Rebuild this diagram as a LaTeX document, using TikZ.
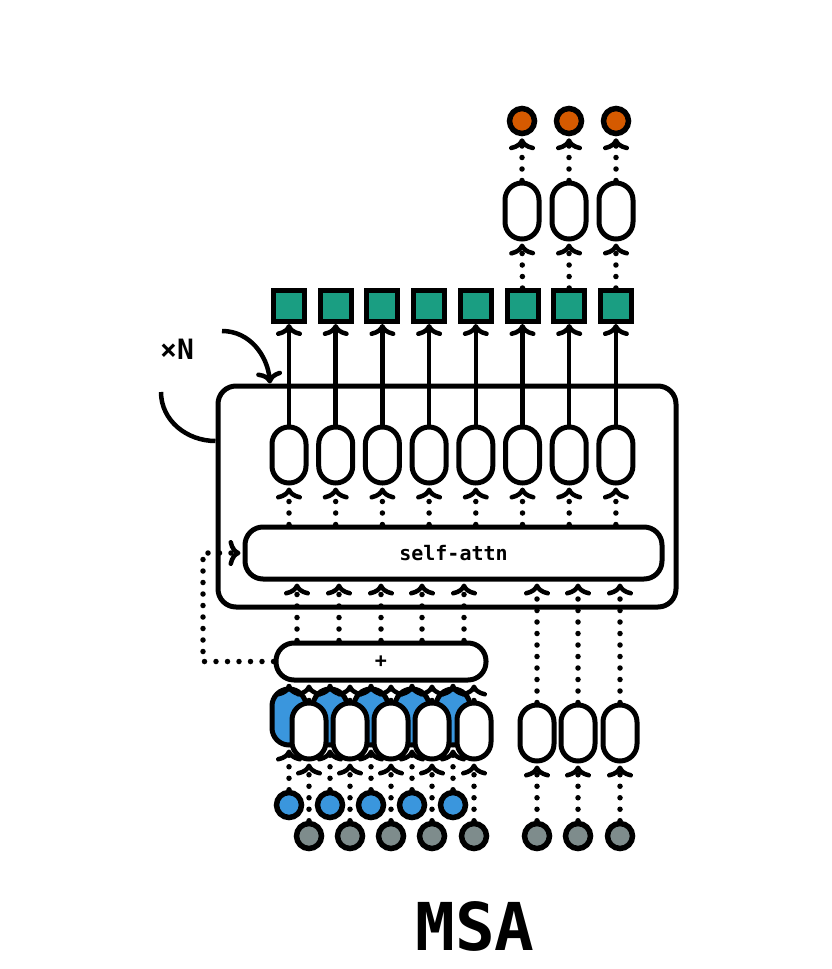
\documentclass[tikz,border=0pt]{standalone}
\usepackage{fontspec}
\setmonofont{DejaVu Sans Mono}
\usetikzlibrary{arrows.meta,positioning,calc}
\definecolor{teal}{HTML}{1A9E82}
\definecolor{blu}{HTML}{3A96DD}
\definecolor{orng}{HTML}{D55A00}
\definecolor{gry}{HTML}{7E8C8C}
\tikzset{
  capsule/.style={draw,line width=5pt,fill=white,minimum width=34pt,
    minimum height=56pt,rounded corners=17pt,inner sep=0pt},
  blue capsule/.style={capsule,fill=blu},
  token/.style={draw,circle,line width=5.5pt,minimum size=25pt,inner sep=0pt},
  outsq/.style={draw,line width=5pt,fill=teal,minimum size=31pt,inner sep=0pt},
  bar/.style={draw,line width=5pt,fill=white,rounded corners=18pt,inner sep=0pt},
  dots/.style={line width=5.5pt,line cap=round,dash pattern=on 0pt off 11.5pt,
    -{Computer Modern Rightarrow[width=26pt,length=12pt,line width=4.5pt,sep=2pt]}},
  solid arr/.style={line width=4.5pt,
    -{Computer Modern Rightarrow[width=26pt,length=12pt,line width=4.5pt]}},
}
\begin{document}
\begin{tikzpicture}[x=1pt,y=-1pt,font=\ttfamily\bfseries]
  \useasboundingbox (0,0) rectangle (831,969);

  % block
  \node[bar,minimum width=458pt,minimum height=221pt] (blk) at (447,496.5) {};
  \node[bar,minimum width=417pt,minimum height=52pt,font=\ttfamily\bfseries\fontsize{20}{24}\selectfont]
    (attn) at (453.5,553) {self-attn};
  \node[bar,minimum width=210pt,minimum height=37pt,font=\ttfamily\bfseries\fontsize{20}{24}\selectfont]
    (plus) at (381,661.5) {+};

  % encoder outputs
  \foreach \i in {1,...,8}{
    \pgfmathsetmacro{\xx}{242.3+46.7*\i}
    \node[capsule] (enc_\i) at (\xx,455) {};
    \node[outsq] (sq_\i) at (\xx,306) {};
    \draw[solid arr] (enc_\i.north) -- (sq_\i.south);
    \draw[dots] (enc_\i.south |- attn.north) -- (enc_\i.south);
  }

  % heads
  \foreach \i/\xx in {6/522,7/569,8/616}{
    \node[capsule] (hd_\i) at (\xx,211) {};
    \node[token,fill=orng] (out_\i) at (\xx,121) {};
    \draw[dots] (sq_\i.north) -- (hd_\i.south);
    \draw[dots] (hd_\i.north) -- (out_\i.south);
  }

  % msa rows
  \foreach \i/\xx in {1/289,2/330,3/371,4/412,5/453}{
    \node[blue capsule] (row_\i) at (\xx,717) {};
    \node[token,fill=blu] (emb_\i) at (\xx,805) {};
    \draw[dots] (emb_\i.north) -- (row_\i.south);
    \draw[dots] (row_\i.north) -- (row_\i.north |- plus.south);
  }
  \foreach \i/\xx in {1/309,2/350,3/391,4/432,5/474}{
    \node[capsule] (col_\i) at (\xx,731) {};
    \node[token,fill=gry] (res_\i) at (\xx,836) {};
    \draw[dots] (res_\i.north) -- (col_\i.south);
    \draw[dots] (col_\i.north) -- (col_\i.north |- plus.south);
  }
  \foreach \i/\xx in {1/297,2/339,3/381,4/422,5/464}{
    \coordinate (in_\i) at (\xx,0);
    \draw[dots] (plus.north -| in_\i) -- (attn.south -| in_\i);
  }

  % single sequence
  \foreach \i/\xx in {6/537,7/578,8/620}{
    \node[capsule] (col_\i) at (\xx,733) {};
    \node[token,fill=gry] (res_\i) at (\xx,836) {};
    \draw[dots] (res_\i.north) -- (col_\i.south);
    \draw[dots] (col_\i.north) -- (col_\i.north |- attn.south);
  }

  % skip
  \coordinate (skip) at (203,0);
  \draw[dots] (plus.west) -- (plus.west -| skip) -- (attn.west -| skip) -- (attn.west);

  % repeat
  \node[font=\ttfamily\bfseries\fontsize{28}{30}\selectfont] (rep) at (177,349) {×N};
  \coordinate (rep_a) at (222,331);
  \coordinate (rep_b) at (161,392);
  \draw[solid arr] (rep_a) to[out=0,in=95] (blk.north west -| 270,0);
  \draw[line width=4.5pt] (rep_b) to[out=-90,in=180] (blk.west |- 0,441);

  \node[font=\ttfamily\bfseries\fontsize{66}{66}\selectfont] (title) at (475,926) {MSA};
\end{tikzpicture}
\end{document}
